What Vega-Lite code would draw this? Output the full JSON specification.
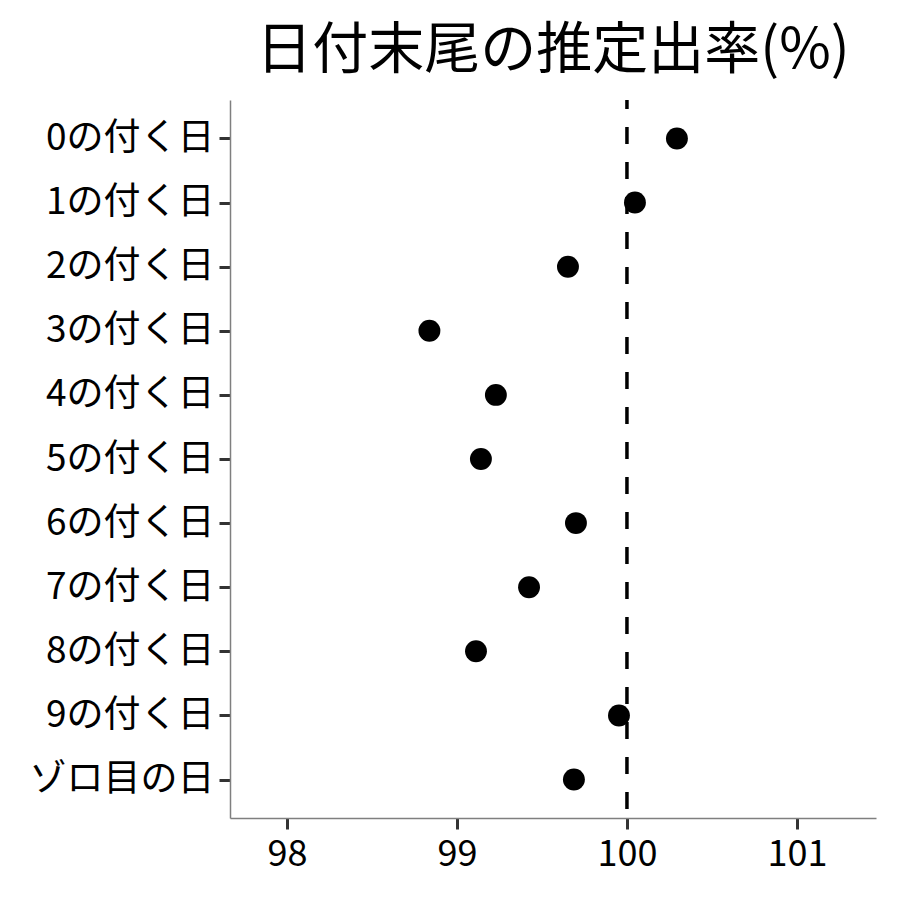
{
  "$schema": "https://vega.github.io/schema/vega-lite/v6.json",
  "autosize": "none",
  "width": 646,
  "height": 718,
  "padding": {"left": 230, "top": 100, "right": 24, "bottom": 82},
  "background": "white",
  "title": {
    "text": "日付末尾の推定出率(%)",
    "font": "Noto Sans CJK JP",
    "fontSize": 56,
    "fontWeight": "normal",
    "color": "black",
    "anchor": "middle",
    "offset": 18
  },
  "config": {
    "view": {"stroke": null},
    "axis": {
      "grid": false,
      "labelFont": "Noto Sans CJK JP",
      "labelFontSize": 35,
      "labelColor": "black",
      "labelLimit": 400,
      "domainColor": "#7f7f7f",
      "domainWidth": 1.5,
      "tickColor": "#333333",
      "tickWidth": 3,
      "tickSize": 11,
      "title": null
    }
  },
  "data": {
    "values": [
      {"label": "0の付く日", "rate": 100.294},
      {"label": "1の付く日", "rate": 100.047},
      {"label": "2の付く日", "rate": 99.653},
      {"label": "3の付く日", "rate": 98.838},
      {"label": "4の付く日", "rate": 99.229},
      {"label": "5の付く日", "rate": 99.141},
      {"label": "6の付く日", "rate": 99.700},
      {"label": "7の付く日", "rate": 99.424},
      {"label": "8の付く日", "rate": 99.112},
      {"label": "9の付く日", "rate": 99.953},
      {"label": "ゾロ目の日", "rate": 99.688}
    ]
  },
  "layer": [
    {
      "mark": {"type": "rule", "strokeDash": [17, 18], "strokeDashOffset": 8, "strokeWidth": 3.5, "color": "black"},
      "data": {"values": [{"ref": 100}]},
      "encoding": {
        "x": {"field": "ref", "type": "quantitative", "scale": {"domain": [97.665, 101.465], "nice": false, "zero": false}}
      }
    },
    {
      "mark": {"type": "point", "filled": true, "size": 480, "color": "black", "opacity": 1},
      "encoding": {
        "x": {
          "field": "rate",
          "type": "quantitative",
          "scale": {"domain": [97.665, 101.465], "nice": false, "zero": false},
          "axis": {"values": [98, 99, 100, 101], "format": "d", "labelPadding": 8, "labelFontSize": 36, "title": null}
        },
        "y": {
          "field": "label",
          "type": "nominal",
          "sort": null,
          "scale": {"type": "point", "padding": 0.6},
          "axis": {"labelPadding": 5, "labelFontSize": 37, "labelLimit": 400, "title": null}
        }
      }
    }
  ]
}
